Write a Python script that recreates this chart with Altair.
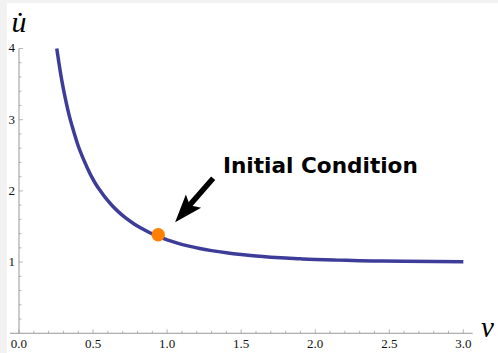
import altair as alt
import pandas as pd

# curve values
v_vals = [0.255, 0.26, 0.28, 0.30, 0.32, 0.34, 0.36, 0.38, 0.40, 0.43, 0.46, 0.49,
          0.52, 0.55, 0.59, 0.63, 0.67, 0.72, 0.77, 0.82, 0.88, 0.94, 1.00, 1.07,
          1.14, 1.22, 1.30, 1.40, 1.50, 1.60, 1.70, 1.80, 1.90, 2.00, 2.15, 2.30,
          2.45, 2.60, 2.80, 3.00]
u_vals = [4.00, 3.93, 3.66, 3.43, 3.23, 3.05, 2.90, 2.76, 2.63, 2.47, 2.33, 2.20,
          2.09, 2.00, 1.887, 1.792, 1.709, 1.62, 1.546, 1.481, 1.416, 1.360, 1.313, 1.267,
          1.228, 1.191, 1.161, 1.13, 1.105, 1.085, 1.069, 1.056, 1.046, 1.037, 1.0275, 1.020,
          1.015, 1.011, 1.007, 1.005]

# initial condition point
init_v = [0.94]
init_u = [1.385]

# annotation
ann_text = ["Initial Condition"]
ann_text_v = [1.377]
ann_text_u = [2.246]
arrow_tail_v = [1.311]
arrow_tail_u = [2.177]
arrow_base_v = [1.133]
arrow_base_u = [1.754]
arrow_tip_v = [1.054]
arrow_tip_u = [1.560]

# axes
x_major = [0.0, 0.5, 1.0, 1.5, 2.0, 2.5, 3.0]
x_labels = ["0.0", "0.5", "1.0", "1.5", "2.0", "2.5", "3.0"]
x_minor = [0.1, 0.2, 0.3, 0.4, 0.6, 0.7, 0.8, 0.9, 1.1, 1.2, 1.3, 1.4,
           1.6, 1.7, 1.8, 1.9, 2.1, 2.2, 2.3, 2.4, 2.6, 2.7, 2.8, 2.9]
y_major = [1, 2, 3, 4]
y_labels = ["1", "2", "3", "4"]
y_minor = [0.2, 0.4, 0.6, 0.8, 1.2, 1.4, 1.6, 1.8, 2.2, 2.4, 2.6, 2.8,
           3.2, 3.4, 3.6, 3.8]
x_axis_range = [-0.061, 3.063]
y_axis_range = [0.0, 4.0]
x_axis_title_pos = [3.163, -0.052]
y_axis_title_pos = [0.0, 4.23]

xs = alt.Scale(domain=[-0.081, 3.234], nice=False, zero=False)
ys = alt.Scale(domain=[-0.277, 4.639], nice=False, zero=False)

AX = "#999999"
LBL = "#111111"
SERIF = "Liberation Serif, Times New Roman, serif"


def X(f):
    return alt.X(f, type="quantitative", scale=xs, axis=None)


def Y(f):
    return alt.Y(f, type="quantitative", scale=ys, axis=None)


curve_df = pd.DataFrame({"v": v_vals, "u": u_vals})
xaxis_df = pd.DataFrame({"v": [x_axis_range[0]], "v2": [x_axis_range[1]], "u": [0.0]})
yaxis_df = pd.DataFrame({"v": [0.0], "u": [y_axis_range[0]], "u2": [y_axis_range[1]]})
xmaj_df = pd.DataFrame({"v": x_major, "u": [0.0] * len(x_major), "lab": x_labels})
xmin_df = pd.DataFrame({"v": x_minor, "u": [0.0] * len(x_minor)})
ymaj_df = pd.DataFrame({"v": [0.0] * len(y_major), "u": y_major, "lab": y_labels})
ymin_df = pd.DataFrame({"v": [0.0] * len(y_minor), "u": y_minor})

x_axis_line = alt.Chart(xaxis_df).mark_rule(color=AX, strokeWidth=1).encode(
    x=X("v"), x2="v2", y=Y("u"))
y_axis_line = alt.Chart(yaxis_df).mark_rule(color=AX, strokeWidth=1).encode(
    x=X("v"), y=Y("u"), y2="u2")
x_major_ticks = alt.Chart(xmaj_df).mark_tick(
    orient="vertical", size=4, thickness=1, yOffset=-2, color=AX).encode(x=X("v"), y=Y("u"))
x_minor_ticks = alt.Chart(xmin_df).mark_tick(
    orient="vertical", size=2.5, thickness=1, yOffset=-1.25, color=AX).encode(x=X("v"), y=Y("u"))
y_major_ticks = alt.Chart(ymaj_df).mark_tick(
    orient="horizontal", size=4, thickness=1, xOffset=2, color=AX).encode(x=X("v"), y=Y("u"))
y_minor_ticks = alt.Chart(ymin_df).mark_tick(
    orient="horizontal", size=2.5, thickness=1, xOffset=1.25, color=AX).encode(x=X("v"), y=Y("u"))
x_tick_labels = alt.Chart(xmaj_df).mark_text(
    font=SERIF, fontSize=13, color=LBL, baseline="middle", dy=11).encode(
    x=X("v"), y=Y("u"), text="lab:N")
y_tick_labels = alt.Chart(ymaj_df).mark_text(
    font=SERIF, fontSize=13, color=LBL, baseline="middle", align="right", dx=-4).encode(
    x=X("v"), y=Y("u"), text="lab:N")

x_title = alt.Chart(pd.DataFrame({"v": [x_axis_title_pos[0]], "u": [x_axis_title_pos[1]], "t": ["v"]})).mark_text(
    font=SERIF, fontStyle="italic", fontSize=29, color="#000000",
    align="center", baseline="alphabetic").encode(x=X("v"), y=Y("u"), text="t:N")
y_title = alt.Chart(pd.DataFrame({"v": [y_axis_title_pos[0]], "u": [y_axis_title_pos[1]], "t": ["u\u0307"]})).mark_text(
    font=SERIF, fontStyle="italic", fontSize=30, color="#000000",
    align="center", baseline="alphabetic").encode(x=X("v"), y=Y("u"), text="t:N")

curve = alt.Chart(curve_df).mark_line(
    color="#3d3d99", strokeWidth=3.5, interpolate="monotone").encode(x=X("v"), y=Y("u"))

point = alt.Chart(pd.DataFrame({"v": init_v, "u": init_u})).mark_point(
    shape="circle", filled=True, size=180, color="#ff8000", opacity=1).encode(x=X("v"), y=Y("u"))

shaft = alt.Chart(pd.DataFrame({"v": arrow_tail_v, "u": arrow_tail_u,
                                "v2": arrow_base_v, "u2": arrow_base_u})).mark_rule(
    color="#000000", strokeWidth=5.5, strokeCap="butt").encode(x=X("v"), y=Y("u"), x2="v2", y2="u2")
head = alt.Chart(pd.DataFrame({"v": arrow_tip_v, "u": arrow_tip_u})).mark_point(
    shape="M0,0L-0.36,1L0,0.8L0.36,1Z", filled=True, size=3136, angle=221,
    color="#000000", opacity=1, strokeWidth=0).encode(x=X("v"), y=Y("u"))

label = alt.Chart(pd.DataFrame({"v": ann_text_v, "u": ann_text_u, "t": ann_text})).mark_text(
    font="DejaVu Sans", fontWeight="bold", fontSize=21.6, color="#000000",
    align="left", baseline="alphabetic").encode(x=X("v"), y=Y("u"), text="t:N")

chart = alt.layer(
    x_axis_line, y_axis_line, x_major_ticks, x_minor_ticks, y_major_ticks, y_minor_ticks,
    x_tick_labels, y_tick_labels, x_title, y_title, curve, point, shaft, head, label
).properties(
    width=491, height=350,
    autosize=alt.AutoSizeParams(type="none"),
    padding={"left": 7, "top": 3, "right": 0, "bottom": 0},
    background="#f2f2f2",
).configure_view(fill="#ffffff", stroke=None)

chart.save("out.html", embed_options={"renderer": "svg", "actions": False})
